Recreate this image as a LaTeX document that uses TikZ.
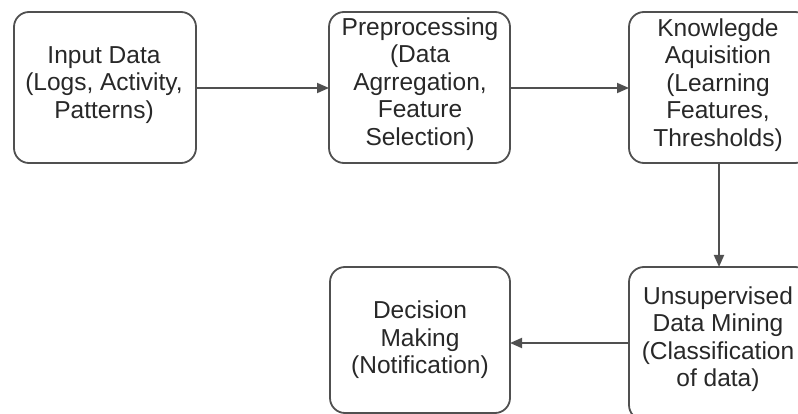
\documentclass[tikz,border=0pt]{standalone}
\usepackage{fontspec}
\setmainfont{Liberation Sans}
\usetikzlibrary{arrows.meta}
\definecolor{edgecol}{RGB}{80,80,80}
\definecolor{txtcol}{RGB}{40,40,40}
\begin{document}
\begin{tikzpicture}[x=1pt,y=-1pt,
  box/.style={draw=edgecol, line width=1.8pt, rounded corners=15pt, fill=white},
  lbl/.style={text=txtcol, font=\fontsize{24.5}{27.5}\selectfont, align=center, inner sep=0pt},
  conn/.style={draw=edgecol, line width=1.8pt, -{Triangle[length=12pt,width=10pt]}}]
\useasboundingbox (0,0) rectangle (798,414);
\clip (0,0) rectangle (798,414);
\fill[white] (0,0) rectangle (798,414);
% boxes
\draw[box] (14,12) rectangle (196,163);
\draw[box] (329,12) rectangle (510,163);
\draw[box] (629,12) rectangle (810,163);
\draw[box] (629,267) rectangle (810,420);
\draw[box] (330,267) rectangle (510,413);
% named anchors
\coordinate (b1r) at (196,88);
\coordinate (b2l) at (329,88);
\coordinate (b2r) at (510,88);
\coordinate (b3l) at (629,88);
\coordinate (b3b) at (719,163);
\coordinate (b4t) at (719,267);
\coordinate (b4l) at (629,343);
\coordinate (b5r) at (510,343);
% labels
\node[lbl] (t1) at (104,85) {Input Data\\(Logs, Activity,\\Patterns)};
\node[lbl] (t2) at (420,84) {Preprocessing\\(Data\\Agrregation,\\Feature\\Selection)};
\node[lbl] (t3) at (718,85) {Knowlegde\\Aquisition\\(Learning\\Features,\\Thresholds)};
\node[lbl] (t4) at (718,339) {Unsupervised\\Data Mining\\(Classification\\of data)};
\node[lbl] (t5) at (420,340) {Decision\\Making\\(Notification)};
% connectors
\draw[conn] (b1r) -- (b2l);
\draw[conn] (b2r) -- (b3l);
\draw[conn] (b3b) -- (b4t);
\draw[conn] (b4l) -- (b5r);
\end{tikzpicture}
\end{document}
